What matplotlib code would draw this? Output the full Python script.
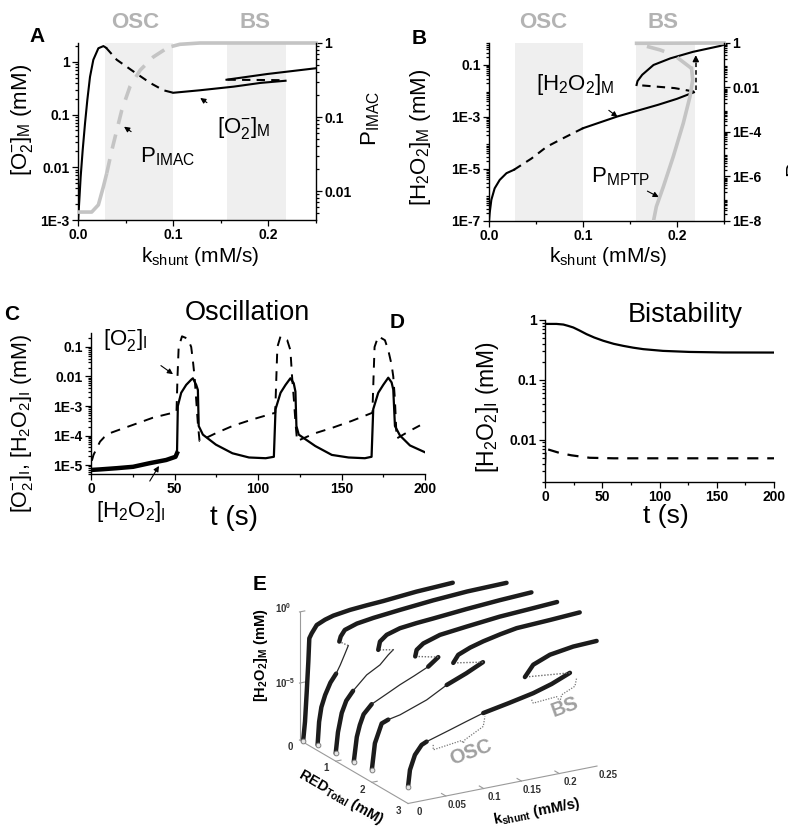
import numpy as np
import matplotlib
matplotlib.use("Agg")
import matplotlib.pyplot as plt
from matplotlib.ticker import LogLocator, NullFormatter, FixedLocator
from mpl_toolkits.mplot3d import proj3d

plt.rcParams["font.family"] = ["Liberation Sans", "DejaVu Sans"]
plt.rcParams["mathtext.fontset"] = "custom"
plt.rcParams["mathtext.rm"] = "Liberation Sans"
plt.rcParams["mathtext.it"] = "Liberation Sans:italic"
plt.rcParams["mathtext.bf"] = "Liberation Sans:bold"
plt.rcParams["axes.linewidth"] = 1.0

# ---------------- data ----------------
osc_window = (0.028, 0.100)
bs_window = (0.156, 0.219)

# Panel A: [O2-]M (left axis) and P_IMAC (right axis) versus k_shunt
a_o2_rise_k = [0.0, 0.0014, 0.0028, 0.0049, 0.0074, 0.0098, 0.0126, 0.0161, 0.0214, 0.0267, 0.0295]
a_o2_rise_v = [0.0009, 0.0024, 0.0066, 0.021, 0.069, 0.19, 0.52, 1.10, 1.82, 2.0, 1.86]
a_o2_osc_k = [0.0295, 0.0407, 0.0582, 0.0758, 0.0898, 0.100]
a_o2_osc_v = [1.86, 1.10, 0.66, 0.40, 0.29, 0.26]
a_o2_low_k = [0.100, 0.128, 0.1635, 0.1916, 0.218]
a_o2_low_v = [0.26, 0.29, 0.34, 0.40, 0.44]
a_o2_mid_k = [0.157, 0.218]
a_o2_mid_v = [0.46, 0.45]
a_o2_up_k = [0.156, 0.1986, 0.250]
a_o2_up_v = [0.46, 0.59, 0.76]

a_p_pre_k = [0.0, 0.0144, 0.0214, 0.0267, 0.0302]
a_p_pre_v = [0.0052, 0.0052, 0.0065, 0.0115, 0.0174]
a_p_osc_k = [0.0302, 0.0354, 0.0407, 0.046, 0.0547, 0.0653, 0.0793, 0.0933, 0.100]
a_p_osc_v = [0.0174, 0.035, 0.066, 0.124, 0.26, 0.43, 0.65, 0.85, 0.91]
a_p_post_k = [0.100, 0.107, 0.128, 0.250]
a_p_post_v = [0.91, 0.96, 1.0, 1.0]

# Panel B: [H2O2]M (left axis) and P_MPTP (right axis) versus k_shunt
b_h2_pre_k = [0.0, 0.0007, 0.0025, 0.006, 0.0114, 0.0186, 0.0265]
b_h2_pre_v = [1.0e-7, 2.0e-7, 6.5e-7, 1.8e-6, 3.8e-6, 6.9e-6, 9.3e-6]
b_h2_osc_k = [0.0265, 0.045, 0.0615, 0.080, 0.100]
b_h2_osc_v = [9.3e-6, 2.5e-5, 7.2e-5, 1.6e-4, 3.7e-4]
b_h2_low_k = [0.100, 0.1367, 0.180, 0.200, 0.218]
b_h2_low_v = [3.7e-4, 1.05e-3, 2.95e-3, 5.0e-3, 8.9e-3]
b_h2_mid_k = [0.218, 0.1975, 0.157]
b_h2_mid_v = [9.5e-3, 1.29e-2, 1.7e-2]
b_h2_up_k = [0.157, 0.158, 0.163, 0.175, 0.193, 0.217, 0.246, 0.250]
b_h2_up_v = [0.017, 0.024, 0.042, 0.10, 0.18, 0.32, 0.54, 0.60]
b_jump_k = 0.220
b_jump_v = (0.011, 0.24)

b_pm_low_k = [0.175, 0.178, 0.1855, 0.196, 0.2067, 0.2138, 0.2167, 0.2155]
b_pm_low_v = [1e-8, 4.4e-8, 3.5e-7, 7.8e-6, 2.5e-4, 3.9e-3, 0.022, 0.072]
b_pm_mid_k = [0.2155, 0.1967, 0.1819, 0.165, 0.157]
b_pm_mid_v = [0.072, 0.29, 0.49, 0.76, 0.91]
b_pm_up_k = [0.157, 0.250]
b_pm_up_v = [0.97, 1.0]

# Panel C: oscillation time courses
c_o2_t = [0.5, 1.5, 2.4, 5.4, 8, 11.3, 16, 25.2, 37, 49, 51.2, 51.8, 52.5, 54.5, 58, 60, 61, 62, 63, 64,
          65, 74.8, 84.7, 96.6, 110.3, 111, 111.6, 113.5, 117.5, 119.4, 120.4, 121.5, 122.5, 123.4,
          134.3, 144.2, 156, 168.5, 169.2, 169.8, 172, 176, 178, 180, 181, 182, 183, 191, 197]
c_o2_v = [1.4e-5, 2.2e-5, 2.8e-5, 6.2e-5, 8.9e-5, 1.2e-4, 1.5e-4, 2.3e-4, 4.0e-4, 5.9e-4, 6.3e-4, 1.0e-2,
          0.10, 0.23, 0.19, 0.10, 0.035, 0.010, 1.6e-3, 2.5e-4,
          6.5e-5, 1.2e-4, 2.1e-4, 3.5e-4, 5.9e-4, 1.0e-2, 0.10, 0.23, 0.17, 0.078, 0.010, 1.6e-3, 2.5e-4, 6.5e-5,
          1.2e-4, 1.8e-4, 3.1e-4, 5.9e-4, 1.0e-2, 0.10, 0.23, 0.17, 0.078, 0.025, 0.010, 1.6e-3, 7.9e-5, 1.45e-4, 2.2e-4]
c_h2_quiet_t = [0, 5.4, 15.3, 25.2, 35, 45, 50.6, 51.5]
c_h2_quiet_v = [6.8e-6, 7.1e-6, 7.8e-6, 8.7e-6, 1.15e-5, 1.48e-5, 1.9e-5, 2.5e-5]
c_h2_t = [51.5, 52, 54, 57, 60, 61, 63, 64, 64.5, 67, 74.8, 84.7, 94.6, 104.6, 109.5,
          110.5, 113.5, 116.5, 119.4, 121.4, 122.4, 123, 124.4, 134.3, 144.2, 154.2, 164, 168,
          169, 172, 175, 178, 180, 181, 182, 185, 191, 200]
c_h2_v = [2.5e-5, 1.0e-3, 2.8e-3, 5.2e-3, 7.8e-3, 8.7e-3, 5.2e-3, 3.5e-3, 2.1e-4, 1.07e-4, 4.9e-5, 2.5e-5, 1.8e-5, 1.7e-5, 1.9e-5,
          7.8e-4, 2.8e-3, 5.2e-3, 8.7e-3, 5.9e-3, 3.1e-3, 2.1e-4, 1.07e-4, 4.4e-5, 2.2e-5, 1.8e-5, 1.7e-5, 1.9e-5,
          7.8e-4, 2.8e-3, 5.2e-3, 9.1e-3, 6.3e-3, 3.6e-3, 2.1e-4, 1.0e-4, 4.6e-5, 2.7e-5]

# Panel D: bistability time courses
d_solid_t = [0, 10, 16, 20, 24.7, 30, 36.3, 43, 50.9, 60, 68.3, 77, 85.8, 103, 126, 155.5, 200]
d_solid_v = [0.86, 0.86, 0.84, 0.80, 0.75, 0.67, 0.58, 0.51, 0.45, 0.40, 0.37, 0.345, 0.326, 0.305, 0.293, 0.287, 0.286]
d_dash_t = [0, 0.5, 1.5, 13, 23, 39, 60, 100, 200]
d_dash_v = [0.0040, 0.0075, 0.0070, 0.0060, 0.0055, 0.0050, 0.0049, 0.0049, 0.0049]

# Panel E: bifurcation curves, log10([H2O2]M) versus k_shunt for several RED_Total
e_red_levels = [0.1, 0.5, 1.0, 1.5, 2.0, 3.0]
e_curve_1 = {
    "stable": ([0.0, 0.0025, 0.0048, 0.0069, 0.0082, 0.0114, 0.018, 0.029, 0.040, 0.0621, 0.084, 0.106, 0.128, 0.150, 0.175, 0.198],
               [-8.93, -7.59, -5.5, -3.42, -1.79, -1.47, -0.96, -0.70, -0.53, -0.36, -0.27, -0.2, -0.1, 0.0, 0.06, 0.12]),
}
e_curve_2 = {
    "stable": ([0.0, 0.002, 0.005, 0.010, 0.017, 0.0245], [-8.6, -7.0, -6.0, -5.2, -4.4, -3.85]),
    "osc": ([0.0245, 0.030, 0.036, 0.0406], [-3.85, -3.3, -2.6, -2.05]),
    "unstable": ([0.0406, 0.0287], [-2.05, -1.64]),
    "upper": ([0.0287, 0.0306, 0.036, 0.052, 0.074, 0.109, 0.153, 0.198, 0.25],
              [-1.64, -1.3, -0.9, -0.62, -0.45, -0.26, -0.05, 0.1, 0.16]),
}
e_curve_3 = {
    "stable": ([0.0, 0.003, 0.008, 0.014, 0.023], [-8.45, -7.0, -5.7, -4.9, -4.3]),
    "osc": ([0.023, 0.041, 0.0586, 0.0696, 0.0762], [-4.3, -3.37, -2.85, -2.26, -1.97]),
    "unstable": ([0.0762, 0.0563], [-1.97, -1.77]),
    "upper": ([0.0563, 0.0586, 0.0675, 0.085, 0.107, 0.129, 0.173, 0.217, 0.259],
              [-1.77, -1.21, -0.83, -0.55, -0.42, -0.33, -0.13, 0.03, 0.14]),
}
e_curve_4 = {
    "stable": ([0.0, 0.004, 0.008, 0.013, 0.0237], [-8.3, -6.6, -5.8, -5.1, -4.5]),
    "osc": ([0.0237, 0.045, 0.061, 0.080, 0.0985], [-4.5, -3.95, -3.53, -3.1, -2.65]),
    "stable2": ([0.0985, 0.1118], [-2.65, -2.12]),
    "unstable": ([0.1118, 0.0813], [-2.12, -1.75]),
    "upper": ([0.0813, 0.0832, 0.092, 0.114, 0.149, 0.193, 0.237, 0.269],
              [-1.75, -1.31, -0.95, -0.58, -0.37, -0.13, 0.0, 0.1]),
}
e_curve_5 = {
    "stable": ([0.0, 0.004, 0.013, 0.0217], [-8.1, -6.3, -5.0, -4.82]),
    "osc": ([0.0217, 0.0372, 0.0725, 0.099], [-4.82, -4.65, -3.97, -3.2]),
    "stable2": ([0.099, 0.125, 0.147], [-3.2, -2.65, -2.1]),
    "unstable": ([0.147, 0.1077], [-2.1, -1.74]),
    "upper": ([0.1077, 0.1143, 0.13, 0.1474, 0.17, 0.1915, 0.2356, 0.275],
              [-1.74, -1.24, -0.9, -0.64, -0.38, -0.18, -0.07, 0.05]),
}
e_curve_6 = {
    "stable": ([0.0, 0.0025, 0.0091, 0.018, 0.0246], [-7.81, -6.67, -5.68, -5.07, -4.91]),
    "osc": ([0.0246, 0.0554, 0.077, 0.0995], [-4.91, -4.41, -4.05, -3.69]),
    "stable2": ([0.0995, 0.133, 0.1656, 0.19, 0.2142], [-3.69, -3.35, -2.99, -2.6, -2.07]),
    "unstable": ([0.2142, 0.1546], [-2.07, -1.74]),
    "upper": ([0.1546, 0.1656, 0.1877, 0.2185, 0.2495], [-1.74, -0.99, -0.52, -0.27, -0.2]),
}
e_curves = [e_curve_1, e_curve_2, e_curve_3, e_curve_4, e_curve_5, e_curve_6]
e_osc_brace_k = [0.0333, 0.0333, 0.071, 0.073, 0.0753, 0.0995, 0.1017]
e_osc_brace_z = [-5.23, -5.58, -5.32, -5.53, -5.31, -4.63, -3.95]
e_bs_brace_k = [0.1635, 0.1656, 0.1966, 0.201, 0.2032, 0.2208, 0.223]
e_bs_brace_z = [-3.43, -3.69, -3.56, -3.95, -3.5, -3.08, -2.53]

# ---------------- figure ----------------
W, H = 788, 831
fig = plt.figure(figsize=(W / 100, H / 100), dpi=100)

SHADE = "#efefef"
LGRAY = "#c4c4c4"
TGRAY = "#b3b3b3"
TICKFS = 10


def box(left, top, right, bottom):
    return [left / W, 1 - bottom / H, (right - left) / W, (bottom - top) / H]


def ftext(x, y, s, **kw):
    return fig.text(x / W, 1 - y / H, s, **kw)


def log_minor(ax, axis="y"):
    loc = LogLocator(base=10, subs=np.arange(2, 10) * 1.0, numticks=100)
    tgt = ax.yaxis if axis == "y" else ax.xaxis
    tgt.set_minor_locator(loc)
    tgt.set_minor_formatter(NullFormatter())


def ticks_style(ax):
    ax.tick_params(which="both", direction="out", width=0.9, pad=2)
    ax.tick_params(which="major", length=4)
    ax.tick_params(which="minor", length=2)


ARROW = dict(arrowstyle="-|>", color="k", lw=0.8, mutation_scale=8, shrinkB=0)

# ---------- A ----------
axA = fig.add_axes(box(78, 43, 316, 220))
axA.set_xlim(0, 0.25)
axA.set_yscale("log")
axA.set_ylim(1e-3, 2.29)
for lo, hi in (osc_window, bs_window):
    axA.axvspan(lo, hi, color=SHADE, lw=0, zorder=0)
axA.plot(a_o2_rise_k, a_o2_rise_v, color="k", lw=1.5)
axA.plot(a_o2_osc_k, a_o2_osc_v, color="k", lw=1.5, ls=(0, (4, 3)))
axA.plot(a_o2_low_k, a_o2_low_v, color="k", lw=1.5)
axA.plot(a_o2_mid_k, a_o2_mid_v, color="k", lw=1.5, ls=(0, (4, 3)))
axA.plot(a_o2_up_k, a_o2_up_v, color="k", lw=1.5)
axA.set_xticks([0, 0.1, 0.2], ["0.0", "0.1", "0.2"], fontsize=TICKFS, fontweight="bold")
axA.set_yticks([1e-3, 1e-2, 1e-1, 1], ["1E-3", "0.01", "0.1", "1"], fontsize=TICKFS, fontweight="bold")
log_minor(axA)
axA.xaxis.set_minor_locator(FixedLocator([0.05, 0.15, 0.25]))
ticks_style(axA)
axA.spines["top"].set_visible(False)
axA.spines["right"].set_visible(False)

axA2 = axA.twinx()
axA2.set_yscale("log")
axA2.set_ylim(0.00406, 1)
axA2.plot(a_p_pre_k, a_p_pre_v, color=LGRAY, lw=2.6, clip_on=False, solid_capstyle="butt")
axA2.plot(a_p_osc_k, a_p_osc_v, color=LGRAY, lw=2.6, ls=(0, (4, 3)))
axA2.plot(a_p_post_k, a_p_post_v, color=LGRAY, lw=2.6, clip_on=False)
axA2.set_yticks([0.01, 0.1, 1], ["0.01", "0.1", "1"], fontsize=TICKFS, fontweight="bold")
log_minor(axA2)
ticks_style(axA2)
for s in ("top", "left", "bottom"):
    axA2.spines[s].set_visible(False)

axA.annotate("[O$_2^{-}$]$_{\\mathrm{M}}$", xy=(0.1284, 0.207), xytext=(0.1737, 0.056),
             fontsize=16, ha="center", va="center", arrowprops=dict(ARROW, shrinkA=12))
axA.annotate("P$_{\\mathrm{IMAC}}$", xy=(0.0484, 0.059), xytext=(0.0937, 0.0158),
             fontsize=16, ha="center", va="center", arrowprops=dict(ARROW, shrinkA=14))

# ---------- B ----------
axB = fig.add_axes(box(489, 43, 724, 221))
axB.set_xlim(0, 0.25)
axB.set_yscale("log")
axB.set_ylim(1e-7, 0.7)
for lo, hi in (osc_window, bs_window):
    axB.axvspan(lo, hi, color=SHADE, lw=0, zorder=0)
axB.plot(b_h2_pre_k, b_h2_pre_v, color="k", lw=1.5)
axB.plot(b_h2_osc_k, b_h2_osc_v, color="k", lw=1.5, ls=(0, (4, 3)))
axB.plot(b_h2_low_k, b_h2_low_v, color="k", lw=1.5)
axB.plot(b_h2_mid_k, b_h2_mid_v, color="k", lw=1.5, ls=(0, (4, 3)))
axB.plot(b_h2_up_k, b_h2_up_v, color="k", lw=1.5)
axB.plot([b_jump_k, b_jump_k], [b_jump_v[0], b_jump_v[1] * 0.8], color="k", lw=1.1, ls=(0, (3, 2)))
axB.annotate("", xy=(b_jump_k, b_jump_v[1]), xytext=(b_jump_k, b_jump_v[1] * 0.6),
             arrowprops=dict(arrowstyle="-|>", color="k", lw=1.0, mutation_scale=9, shrinkA=0, shrinkB=0))
axB.set_xticks([0, 0.1, 0.2], ["0.0", "0.1", "0.2"], fontsize=TICKFS, fontweight="bold")
axB.set_yticks([1e-7, 1e-5, 1e-3, 1e-1], ["1E-7", "1E-5", "1E-3", "0.1"], fontsize=TICKFS, fontweight="bold")
log_minor(axB)
axB.xaxis.set_minor_locator(FixedLocator([0.05, 0.15, 0.25]))
ticks_style(axB)
axB.spines["top"].set_visible(False)
axB.spines["right"].set_visible(False)

axB2 = axB.twinx()
axB2.set_yscale("log")
axB2.set_ylim(1e-8, 1)
axB2.plot(b_pm_low_k, b_pm_low_v, color=LGRAY, lw=2.6)
axB2.plot(b_pm_mid_k, b_pm_mid_v, color=LGRAY, lw=2.6, ls=(0, (5, 4)))
axB2.plot(b_pm_up_k, b_pm_up_v, color=LGRAY, lw=2.6, clip_on=False)
axB2.set_yticks([1e-8, 1e-6, 1e-4, 1e-2, 1], ["1E-8", "1E-6", "1E-4", "0.01", "1"],
                fontsize=TICKFS, fontweight="bold")
log_minor(axB2)
ticks_style(axB2)
for s in ("top", "left", "bottom"):
    axB2.spines[s].set_visible(False)

axB.annotate("[H$_2$O$_2$]$_{\\mathrm{M}}$", xy=(0.1368, 1.0e-3), xytext=(0.0919, 0.017),
             fontsize=16, ha="center", va="center", arrowprops=dict(ARROW, shrinkA=12))
axB.annotate("P$_{\\mathrm{MPTP}}$", xy=(0.1806, 8.3e-7), xytext=(0.140, 4.9e-6),
             fontsize=16, ha="center", va="center", arrowprops=dict(ARROW, shrinkA=12))

# ---------- C ----------
axC = fig.add_axes(box(91, 333, 425, 474))
axC.set_xlim(0, 200)
axC.set_yscale("log")
axC.set_ylim(4.96e-6, 0.298)
axC.plot(c_o2_t, c_o2_v, color="k", lw=1.4, ls=(0, (5, 4)))
axC.plot(c_h2_quiet_t, c_h2_quiet_v, color="k", lw=3.2)
axC.plot(c_h2_t, c_h2_v, color="k", lw=1.6)
axC.set_xticks([0, 50, 100, 150, 200], ["0", "50", "100", "150", "200"], fontsize=TICKFS, fontweight="bold")
axC.set_yticks([1e-5, 1e-4, 1e-3, 1e-2, 1e-1], ["1E-5", "1E-4", "1E-3", "0.01", "0.1"],
               fontsize=TICKFS, fontweight="bold")
axC.xaxis.set_minor_locator(FixedLocator([25, 75, 125, 175]))
log_minor(axC)
ticks_style(axC)
axC.spines["top"].set_visible(False)
axC.spines["right"].set_visible(False)
axC.annotate("[O$_2^{-}$]$_{\\mathrm{I}}$", xy=(49.1, 0.012), xytext=(20.4, 0.17),
             fontsize=16, ha="center", va="center", annotation_clip=False,
             arrowprops=dict(ARROW, shrinkA=12))
axC.annotate("[H$_2$O$_2$]$_{\\mathrm{I}}$", xy=(40.7, 9.3e-6), xytext=(24.0, 2.6e-7),
             fontsize=16, ha="center", va="center", annotation_clip=False,
             arrowprops=dict(ARROW, shrinkA=13))

# ---------- D ----------
axD = fig.add_axes(box(545, 320, 774, 482))
axD.set_xlim(0, 200)
axD.set_yscale("log")
axD.set_ylim(0.00197, 1.0)
axD.plot(d_solid_t, d_solid_v, color="k", lw=1.6)
axD.plot(d_dash_t, d_dash_v, color="k", lw=1.6, ls=(0, (5, 4)))
axD.set_xticks([0, 50, 100, 150, 200], ["0", "50", "100", "150", "200"], fontsize=TICKFS, fontweight="bold")
axD.set_yticks([0.01, 0.1, 1], ["0.01", "0.1", "1"], fontsize=TICKFS, fontweight="bold")
axD.xaxis.set_minor_locator(FixedLocator([25, 75, 125, 175]))
log_minor(axD)
ticks_style(axD)
axD.spines["top"].set_visible(False)
axD.spines["right"].set_visible(False)

# ---------- text for A-D ----------
ftext(37, 37, "A", fontsize=15, fontweight="bold", ha="center", va="center")
ftext(419, 39, "B", fontsize=15, fontweight="bold", ha="center", va="center")
ftext(12, 314, "C", fontsize=15, fontweight="bold", ha="center", va="center")
ftext(397, 322, "D", fontsize=15, fontweight="bold", ha="center", va="center")
ftext(260, 585, "E", fontsize=15, fontweight="bold", ha="center", va="center")
for x, s in ((135, "OSC"), (255, "BS"), (543, "OSC"), (663, "BS")):
    ftext(x, 22, s, fontsize=16, fontweight="bold", color=TGRAY, ha="center", va="center")
ftext(200, 262, "k$_{\\mathrm{shunt}}$ (mM/s)", fontsize=15, ha="center", va="baseline")
ftext(608, 262, "k$_{\\mathrm{shunt}}$ (mM/s)", fontsize=15, ha="center", va="baseline")
ftext(22, 120, "[O$_2^{-}$]$_{\\mathrm{M}}$ (mM)", fontsize=16, rotation=90, ha="center", va="center")
ftext(371, 118, "P$_{\\mathrm{IMAC}}$", fontsize=16, rotation=90, ha="center", va="center")
ftext(420, 137, "[H$_2$O$_2$]$_{\\mathrm{M}}$ (mM)", fontsize=16, rotation=90, ha="center", va="center")
ftext(797, 148, "P$_{\\mathrm{MPTP}}$", fontsize=16, rotation=90, ha="center", va="center")
ftext(22, 423, "[O$_2^{-}$]$_{\\mathrm{I}}$, [H$_2$O$_2$]$_{\\mathrm{I}}$ (mM)", fontsize=15.5,
      rotation=90, ha="center", va="center")
ftext(487, 407, "[H$_2$O$_2$]$_{\\mathrm{I}}$ (mM)", fontsize=16.5, rotation=90, ha="center", va="center")
ftext(247, 320, "Oscillation", fontsize=19.5, ha="center", va="baseline")
ftext(685, 322, "Bistability", fontsize=19.5, ha="center", va="baseline")
ftext(234, 525, "t (s)", fontsize=20, ha="center", va="baseline")
ftext(666, 523, "t (s)", fontsize=19, ha="center", va="baseline")

# ---------- E (3D) ----------
ZMIN, ZMAX = -9.0, 0.0
side = 360
ax3 = fig.add_axes([0.30, 0.02, side / W, side / H], projection="3d", proj_type="ortho")
ax3.set_facecolor("none")
ax3.view_init(elev=19.9, azim=-30.2)
ax3.set_box_aspect((1.0, 1.013, 0.631))
ax3.set_xlim(0, 3)
ax3.set_ylim(0, 0.25)
ax3.set_zlim(ZMIN, ZMAX)
ax3.set_axis_off()


def proj_px(ax, x, y, z):
    xs, ys, _ = proj3d.proj_transform(np.atleast_1d(float(x)), np.atleast_1d(float(y)),
                                      np.atleast_1d(float(z)), ax.get_proj())
    return ax.transData.transform(np.column_stack([xs, ys]))[0]


# place the 3D box so its floor corners sit where the panel layout wants them
targets = np.array([[299.5, H - 740.0], [597.0, H - 766.0]])
for _ in range(3):
    fig.canvas.draw()
    p0 = proj_px(ax3, 0, 0, ZMIN)
    p1 = proj_px(ax3, 3, 0.25, ZMIN)
    bb = ax3.get_position()
    c = np.array([(bb.x0 + bb.width / 2) * W, (bb.y0 + bb.height / 2) * H])
    s = np.linalg.norm(targets[1] - targets[0]) / np.linalg.norm(p1 - p0)
    newc = targets[0] - s * (p0 - c)
    wpx, hpx = bb.width * W * s, bb.height * H * s
    ax3.set_position([(newc[0] - wpx / 2) / W, (newc[1] - hpx / 2) / H, wpx / W, hpx / H])
fig.canvas.draw()


def text3d(x, y, z, s, **kw):
    """Label anchored at a 3D data point, drawn flat so it can be rotated."""
    px = proj_px(ax3, x, y, z)
    return fig.text(px[0] / W, px[1] / H, s, **kw)


AXC = "#9a9a9a"
ax3.plot([0, 0], [0, 0], [ZMIN, ZMAX], color=AXC, lw=0.8)
ax3.plot([0, 3], [0, 0], [ZMIN, ZMIN], color=AXC, lw=0.8)
ax3.plot([3, 3], [0, 0.25], [ZMIN, ZMIN], color=AXC, lw=0.8)
for zt in (0, -5):
    ax3.plot([0, 0], [0, 0.007], [zt, zt], color=AXC, lw=0.8)
for r in (1, 2):
    ax3.plot([r, r], [0, 0.007], [ZMIN, ZMIN], color=AXC, lw=0.8)
for kt in (0.05, 0.1, 0.15, 0.2):
    ax3.plot([2.88, 3], [kt, kt], [ZMIN, ZMIN], color=AXC, lw=0.8)

branch_style = {
    "stable": dict(color="#1c1c1c", lw=3.2, solid_capstyle="round"),
    "stable2": dict(color="#1c1c1c", lw=3.2, solid_capstyle="round"),
    "upper": dict(color="#1c1c1c", lw=3.2, solid_capstyle="round"),
    "osc": dict(color="#2a2a2a", lw=0.9),
    "unstable": dict(color="#6a6a6a", lw=1.0, ls=(0, (1, 1.2))),
}
for red, curve in zip(e_red_levels, e_curves):
    for name, (ks, zs) in curve.items():
        ax3.plot(np.full(len(ks), red), ks, zs, **branch_style[name])
    ks, zs = curve["stable"]
    ax3.plot([red], ks[:1], zs[:1], ls="none", marker="o", ms=3.4,
             mfc="#e6e6e6", mec="#808080", mew=0.7)

ax3.plot(np.full(len(e_osc_brace_k), 3.0), e_osc_brace_k, e_osc_brace_z, color="#777777", lw=0.9, ls=(0, (1, 1.2)))
ax3.plot(np.full(len(e_bs_brace_k), 3.0), e_bs_brace_k, e_bs_brace_z, color="#777777", lw=0.9, ls=(0, (1, 1.2)))

ETICK = dict(fontsize=7, fontweight="bold", color="#333333", ha="center", va="center")
text3d(0, -0.0218, 0.51, "$\\mathbf{10^{0}}$", **ETICK)
text3d(0, -0.019, -4.78, "$\\mathbf{10^{-5}}$", **ETICK)
for r in (0, 1, 2, 3):
    text3d(r, -0.0128, -9.37, str(r), **ETICK)
for kt, lab in ((0, "0"), (0.05, "0.05"), (0.1, "0.1"), (0.15, "0.15"), (0.2, "0.2"), (0.25, "0.25")):
    text3d(3.3, kt, -9.18, lab, **ETICK)
text3d(0, -0.051, -2.48, "[H$_\\mathbf{2}$O$_\\mathbf{2}$]$_\\mathbf{M}$ (mM)", fontsize=10.5,
       fontweight="bold", rotation=90, ha="center", va="center")
text3d(2.2, -0.05, -9.2, "RED$_\\mathbf{Total}$ (mM)", fontsize=10.5, fontweight="bold",
       rotation=-30, ha="center", va="center", rotation_mode="anchor")
text3d(3.6, 0.142, -10.2, "k$_\\mathbf{shunt}$ (mM/s)", fontsize=10.5, fontweight="bold",
       rotation=11, ha="center", va="center", rotation_mode="anchor")
text3d(3.0, 0.0832, -6.26, "OSC", fontsize=14.5, fontweight="bold", color="#a0a0a0",
       rotation=20, ha="center", va="center", rotation_mode="anchor")
text3d(3.0, 0.2075, -4.4, "BS", fontsize=14.5, fontweight="bold", color="#a0a0a0",
       rotation=20, ha="center", va="center", rotation_mode="anchor")

fig.savefig("out.png", dpi=100)
